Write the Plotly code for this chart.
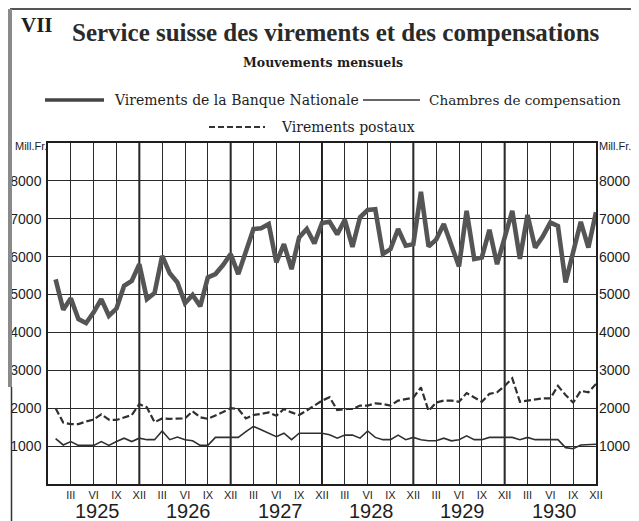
import plotly.graph_objects as go

# ---- data (monthly, Jan 1925 .. Dec 1930) ----
months = list(range(1, 73))
banque_nationale = [
    5400, 4600, 4900, 4350, 4250, 4530, 4880, 4440, 4630, 5230, 5360, 5800,
    4880, 5040, 6020, 5560, 5320, 4770, 4990, 4690, 5450, 5540, 5780, 6070,
    5540, 6110, 6730, 6750, 6860, 5850, 6330, 5670, 6510, 6730, 6350, 6890,
    6920, 6590, 6970, 6260, 7040, 7230, 7250, 6070, 6200, 6730, 6290, 6330,
    7710, 6270, 6450, 6860, 6290, 5740, 7210, 5940, 5980, 6710, 5800, 6510,
    7210, 5940, 7100, 6240, 6530, 6900, 6810, 5320, 6110, 6920, 6240, 7170,
]
chambres_compensation = [
    1200, 1030, 1120, 1020, 1020, 1020, 1120, 1020, 1120, 1210, 1120, 1210,
    1170, 1170, 1400, 1170, 1240, 1170, 1140, 1020, 1020, 1230, 1230, 1230,
    1230, 1380, 1520, 1430, 1340, 1250, 1340, 1170, 1340, 1340, 1340, 1340,
    1300, 1210, 1290, 1290, 1210, 1400, 1230, 1170, 1170, 1290, 1170, 1230,
    1170, 1140, 1140, 1210, 1140, 1170, 1270, 1170, 1170, 1230, 1230, 1230,
    1230, 1170, 1230, 1170, 1170, 1170, 1170, 960, 930, 1030, 1050, 1050,
]
virements_postaux = [
    2000, 1620, 1580, 1580, 1650, 1700, 1840, 1700, 1690, 1760, 1820, 2110,
    2020, 1630, 1730, 1720, 1720, 1730, 1920, 1760, 1720, 1800, 1900, 2000,
    1980, 1730, 1820, 1850, 1890, 1800, 1980, 1890, 1820, 1940, 2070, 2200,
    2290, 1950, 1980, 1980, 2070, 2070, 2130, 2110, 2070, 2200, 2240, 2280,
    2550, 1930, 2150, 2200, 2200, 2170, 2400, 2280, 2170, 2380, 2420, 2590,
    2790, 2170, 2200, 2240, 2260, 2260, 2590, 2350, 2150, 2460, 2420, 2640,
]
years = ["1925", "1926", "1927", "1928", "1929", "1930"]
quarter_labels = ["III", "VI", "IX", "XII"]
y_ticks = [1000, 2000, 3000, 4000, 5000, 6000, 7000, 8000]

quarter_pos = list(range(3, 73, 3))
quarter_text = quarter_labels * len(years)
year_ends = [12, 24, 36, 48, 60]
year_centers = [6.5 + 12 * i for i in range(len(years))]

# page offset (browser body margin) compensation
OFF = 8
W, H = 639 - OFF, 521 - OFF
ML, MT = 48 - OFF, 143 - OFF
PW, PH = 548, 341
MR, MB = W - ML - PW, H - MT - PH


def px(xpage):
    return (xpage - OFF - ML) / PW


def py(ypage):
    return (MT + PH - (ypage - OFF)) / PH


GRID = "#2a2a2a"
INK = "#1e1e1e"

fig = go.Figure()
fig.add_trace(go.Scatter(x=months, y=chambres_compensation, mode="lines",
                         line=dict(color="#303030", width=1.6), name="Chambres de compensation"))
fig.add_trace(go.Scatter(x=months, y=virements_postaux, mode="lines",
                         line=dict(color="#303030", width=2.2, dash="7px,3px"), name="Virements postaux"))
fig.add_trace(go.Scatter(x=months, y=banque_nationale, mode="lines",
                         line=dict(color="#555555", width=4.6), name="Virements de la Banque Nationale"))
fig.add_trace(go.Scatter(x=[None], y=[None], yaxis="y2", showlegend=False, hoverinfo="skip"))

tickfont = dict(family="Liberation Sans", size=14, color=INK)

fig.update_layout(
    width=W, height=H,
    margin=dict(l=ML, r=MR, t=MT, b=MB, autoexpand=False),
    paper_bgcolor="white", plot_bgcolor="white",
    showlegend=False,
    xaxis=dict(range=[0, 72], tickvals=quarter_pos, ticktext=quarter_text,
               showgrid=True, gridcolor=GRID, gridwidth=1, zeroline=False,
               showline=True, mirror=True, linecolor=INK, linewidth=1.5,
               ticks="", tickangle=0, automargin=False,
               tickfont=dict(family="Liberation Sans", size=11, color=INK)),
    yaxis=dict(range=[0, 9000], tickvals=y_ticks, showgrid=True, gridcolor=GRID,
               gridwidth=1, zeroline=False, showline=True, mirror=True,
               linecolor=INK, linewidth=1.5, ticks="", tickfont=tickfont,
               ticklabelstandoff=2, automargin=False),
    yaxis2=dict(range=[0, 9000], tickvals=y_ticks, overlaying="y", side="right",
                showgrid=False, zeroline=False, showline=False, ticks="",
                tickfont=tickfont, ticklabelstandoff=2, automargin=False),
)

shapes = []
for m in year_ends:
    shapes.append(dict(type="line", xref="x", yref="paper", x0=m, x1=m, y0=0, y1=1,
                       line=dict(color=INK, width=2), layer="below"))
# outer frame (scanned plate border)
fl, fr, ft = px(10), px(634), py(9)
fmid = py(387)
fbot = py(530)
shapes += [
    dict(type="line", xref="paper", yref="paper", x0=fl, x1=fr, y0=ft, y1=ft,
         line=dict(color="#555", width=2)),
    dict(type="line", xref="paper", yref="paper", x0=fl, x1=fl, y0=ft, y1=fmid,
         line=dict(color="#8a8a8a", width=4)),
    dict(type="line", xref="paper", yref="paper", x0=fl + 1.5 / PW, x1=fl + 1.5 / PW, y0=fmid, y1=fbot,
         line=dict(color="#333", width=1.5)),
    dict(type="line", xref="paper", yref="paper", x0=fr, x1=fr, y0=ft, y1=fmid,
         line=dict(color="#8a8a8a", width=3)),
    dict(type="line", xref="paper", yref="paper", x0=fr, x1=fr, y0=fmid, y1=fbot,
         line=dict(color="#333", width=1.5)),
]
# legend samples
shapes += [
    dict(type="line", xref="paper", yref="paper", x0=px(45), x1=px(104), y0=py(100), y1=py(100),
         line=dict(color="#444", width=3.5)),
    dict(type="line", xref="paper", yref="paper", x0=px(363), x1=px(420), y0=py(100), y1=py(100),
         line=dict(color="#333", width=1.5)),
    dict(type="line", xref="paper", yref="paper", x0=px(209), x1=px(265), y0=py(127), y1=py(127),
         line=dict(color="#333", width=2, dash="6px,3px")),
]
fig.update_layout(shapes=shapes)

serif = "DejaVu Serif"
ann = [
    dict(text="<b>VII</b>", x=px(19), y=py(25), xanchor="left", yanchor="middle",
         font=dict(family="Liberation Serif", size=21, color=INK)),
    dict(text="<b>Service suisse des virements et des compensations</b>", x=px(336), y=py(32),
         xanchor="center", yanchor="middle",
         font=dict(family="Liberation Serif", size=25, color="#2a2a2a")),
    dict(text="<b>Mouvements mensuels</b>", x=px(323), y=py(62), xanchor="center", yanchor="middle",
         font=dict(family=serif, size=12.5, color=INK)),
    dict(text="Virements de la Banque Nationale", x=px(112), y=py(100), xanchor="left", yanchor="middle",
         font=dict(family=serif, size=14, color=INK)),
    dict(text="Chambres de compensation", x=px(427), y=py(100), xanchor="left", yanchor="middle",
         font=dict(family=serif, size=13.6, color=INK)),
    dict(text="Virements postaux", x=px(279), y=py(127), xanchor="left", yanchor="middle",
         font=dict(family=serif, size=14, color=INK)),
    dict(text="Mill.Fr.", x=px(49), y=py(146), xanchor="right", yanchor="middle",
         font=dict(family="Liberation Sans", size=11, color=INK)),
    dict(text="Mill.Fr.", x=px(597), y=py(146), xanchor="left", yanchor="middle",
         font=dict(family="Liberation Sans", size=11, color=INK)),
]
for yc, lbl in zip(year_centers, years):
    ann.append(dict(text=lbl, x=yc, xref="x", y=py(511), yref="paper", xanchor="center",
                    yanchor="middle", font=dict(family="Liberation Sans", size=20, color=INK)))
for a in ann:
    a.setdefault("xref", "paper")
    a.setdefault("yref", "paper")
    a["showarrow"] = False
fig.update_layout(annotations=ann)

fig.write_html("out.html")
